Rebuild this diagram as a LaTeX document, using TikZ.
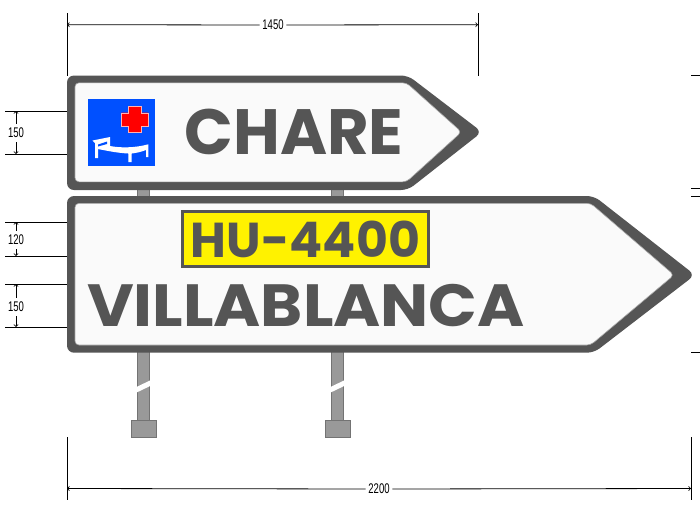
\documentclass[tikz,border=0pt]{standalone}
\usepackage{fontspec}
\setmainfont{Liberation Sans}
\newfontfamily\signfont{Poppins}
\definecolor{signdark}{HTML}{555555}
\definecolor{signwhite}{HTML}{FAFAFA}
\definecolor{postgrey}{HTML}{999999}
\definecolor{iconblue}{HTML}{0050FF}
\tikzset{
  plate/.style={fill=signdark, rounded corners=7pt},
  plateface/.style={fill=signwhite, draw=black!35, line width=0.6pt, rounded corners=4pt},
  post/.style={fill=postgrey, draw=black!55, line width=0.6pt},
  lettering/.style={font=\signfont\bfseries\fontsize{64}{64}\selectfont, text=signdark, inner sep=0pt, transform shape},
  dimline/.style={line width=0.8pt},
  dimarrow/.style={line width=0.8pt, ->},
  dimlabel/.style={font=\fontsize{14}{14}\selectfont, inner sep=4pt, transform shape, xscale=0.68},
}
\begin{document}
\begin{tikzpicture}[x=1pt, y=-1pt]
\useasboundingbox (0,0) rectangle (700,507);
% posts
\draw[post] (137.5,185) rectangle (149.5,200);
\draw[post] (331.5,185) rectangle (343.5,200);
\draw[post] (137.5,350) rectangle (149.5,420);
\draw[post] (331.5,350) rectangle (343.5,420);
\fill[white] (136,387.2) -- (151,380) -- (151,385.6) -- (136,392.8) -- cycle;
\fill[white] (330,387.2) -- (345,380) -- (345,385.6) -- (330,392.8) -- cycle;
\draw[post] (131,420) rectangle (156.5,437.5);
\draw[post] (325,420) rectangle (350.5,437.5);
% upper sign
\fill[plate] (67,75.5) -- (408,75.5) -- (482,132) -- (408,190) -- (67,190) -- cycle;
\draw[plateface] (75,82.8) -- (406.5,82.8) -- (461.5,132) -- (406.5,181.8) -- (75,181.8) -- cycle;
% lower sign
\fill[plate] (67,196) -- (594,196) -- (695,275) -- (594,352.7) -- (67,352.7) -- cycle;
\draw[plateface] (75,203.3) -- (590.7,203.3) -- (674,275) -- (590.7,345) -- (75,345) -- cycle;
% icon
\fill[iconblue] (88,99.3) rectangle (154.7,165.7);
\fill[red, draw=white!70!red, line width=0.4pt] (128,106) -- (141,106) -- (141,112.7) -- (148,112.7) -- (148,126) -- (141,126) -- (141,132.5) -- (128,132.5) -- (128,126) -- (121.5,126) -- (121.5,112.7) -- (128,112.7) -- cycle;
\fill[white] (92.5,140.5) -- (110,137) -- (110,146) .. controls (120,148) and (135,148) .. (148.3,144.3) -- (148.3,157) -- (146,157) -- (146,150) .. controls (141,152) and (136,153) .. (131.7,153.5) -- (131.7,162) -- (128.3,162) -- (128.3,153.5) .. controls (118,153) and (108,151) .. (98,149) -- (98,158) -- (95,158) -- (95,143) -- cycle;
\fill[iconblue] (98,144.5) -- (107,141.5) -- (107,144) -- (98,146.5) -- cycle;
% road number
\node[fill=yellow, draw=signdark, line width=2.8pt, minimum width=246pt, minimum height=55pt, inner sep=0pt] (roadplate) at (305.5,238.8) {};
\node[lettering, font=\signfont\bfseries\fontsize{49}{49}\selectfont] (roadnumber) at (305.5,239) {HU-4400};
% names
\node[lettering] (chare) at (294,132) {CHARE};
\node[lettering, yscale=0.93] (villablanca) at (306,305.5) {VILLABLANCA};
% dimensions, top
\coordinate (t1a) at (67,13); \coordinate (t1b) at (67,76);
\coordinate (t2a) at (478,13); \coordinate (t2b) at (478,76);
\draw[dimline] (t1a) -- (t1b);
\draw[dimline] (t2a) -- (t2b);
\coordinate (topl) at (67,24.7); \coordinate (topr) at (478,24.7);
\node[dimlabel] (w1450) at (273,25) {1450};
\draw[dimarrow] (w1450) -- (topl);
\draw[dimarrow] (w1450) -- (topr);
% dimensions, bottom
\coordinate (b1a) at (67,437); \coordinate (b1b) at (67,500);
\coordinate (b2a) at (691,437); \coordinate (b2b) at (691,500);
\draw[dimline] (b1a) -- (b1b);
\draw[dimline] (b2a) -- (b2b);
\coordinate (botl) at (67,488.5); \coordinate (botr) at (691,488.5);
\node[dimlabel] (w2200) at (379,489) {2200};
\draw[dimarrow] (w2200) -- (botl);
\draw[dimarrow] (w2200) -- (botr);
% dimensions, left
\foreach \ya/\yb/\ym/\lab/\nm in {111/154/133/150/h1, 222/256/240/120/h2, 284/327/307/150/h3} {
  \coordinate (\nm a) at (5,\ya); \coordinate (\nm ae) at (67,\ya);
  \coordinate (\nm b) at (5,\yb); \coordinate (\nm be) at (67,\yb);
  \draw[dimline] (\nm a) -- (\nm ae);
  \draw[dimline] (\nm b) -- (\nm be);
  \coordinate (\nm t) at (16,\ya); \coordinate (\nm d) at (16,\yb);
  \node[dimlabel] (\nm l) at (16,\ym) {\lab};
  \draw[dimarrow] (\nm l) -- (\nm t);
  \draw[dimarrow] (\nm l) -- (\nm d);
}
% ticks, right
\foreach \y/\nm in {75.7/r1, 188.3/r2, 196/r3, 352/r4} {
  \coordinate (\nm a) at (691,\y); \coordinate (\nm b) at (700,\y);
  \draw[dimline] (\nm a) -- (\nm b);
}
\end{tikzpicture}
\end{document}
